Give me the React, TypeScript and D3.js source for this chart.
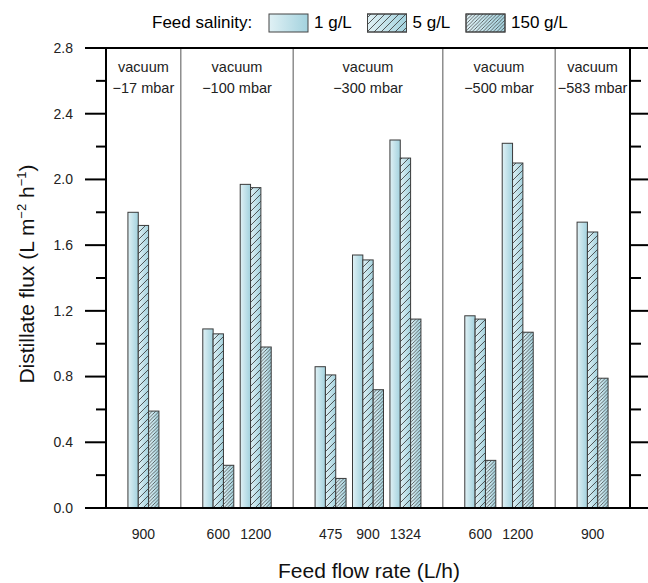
import React from "react";
import * as d3 from "d3";

// vacuum level of each panel and the feed flow rates measured in it
const vacuumLabels = ["\u221217 mbar", "\u2212100 mbar", "\u2212300 mbar", "\u2212500 mbar", "\u2212583 mbar"];
const flowRates = [["900"], ["600", "1200"], ["475", "900", "1324"], ["600", "1200"], ["900"]];

const series = ["1 g/L", "5 g/L", "150 g/L"];
const flux1 = [1.8, 1.09, 1.97, 0.86, 1.54, 2.24, 1.17, 2.22, 1.74];
const flux5 = [1.72, 1.06, 1.95, 0.81, 1.51, 2.13, 1.15, 2.1, 1.68];
const flux150 = [0.59, 0.26, 0.98, 0.18, 0.72, 1.15, 0.29, 1.07, 0.79];

const yTicks = [0, 0.4, 0.8, 1.2, 1.6, 2.0, 2.4, 2.8];
const yMinorTicks = [0.2, 0.6, 1.0, 1.4, 1.8, 2.2, 2.6];

const W = 648;
const H = 583;
const left = 106;
const right = 630;
const top = 48;
const bottom = 508;
const font = "'Liberation Sans', Arial, Helvetica, sans-serif";

export default function App() {
  // slot layout: each panel gets (groups + 1) slots, groups sit on whole slots
  const panels: { start: number; end: number; label: string }[] = [];
  const groups: { pos: number; label: string }[] = [];
  let cursor = 0;
  flowRates.forEach((rates, p) => {
    const start = cursor;
    rates.forEach((r, i) => groups.push({ pos: start + i + 1, label: r }));
    cursor = start + rates.length + 1;
    panels.push({ start, end: cursor, label: vacuumLabels[p] });
  });

  const x = d3.scaleLinear().domain([0, cursor]).range([left, right]);
  const y = d3.scaleLinear().domain([0, 2.8]).range([bottom, top]);
  const xInner = d3.scaleBand().domain(series).range([-15.5, 15.5]);
  const values = [flux1, flux5, flux150];
  const fills = ["", "url(#hatchSparse)", "url(#hatchDense)"];

  return (
    <svg width={W} height={H} style={{ position: "absolute", left: 0, top: 0, background: "#fff" }} fontFamily={font}>
      <defs>
        <linearGradient id="barGrad" x1="0" x2="1" y1="0" y2="0">
          <stop offset="0%" stopColor="#e0f1f5" />
          <stop offset="100%" stopColor="#a3d2de" />
        </linearGradient>
        <pattern id="hatchSparse" patternUnits="userSpaceOnUse" width="7" height="7">
          <path d="M0,7 L7,0 M-1,1 L1,-1 M6,8 L8,6" stroke="#333" strokeWidth="0.8" />
        </pattern>
        <pattern id="hatchDense" patternUnits="userSpaceOnUse" width="3.5" height="3.5">
          <path d="M0,3.5 L3.5,0 M-1,1 L1,-1 M2.5,4.5 L4.5,2.5" stroke="#333" strokeWidth="0.7" />
        </pattern>
      </defs>

      {/* legend */}
      <text x={152} y={28} fontSize={17}>Feed salinity:</text>
      {series.map((s, i) => {
        const lx = 269 + i * 98.5;
        return (
          <g key={s}>
            <rect x={lx} y={14} width={39} height={18} fill="url(#barGrad)" stroke="#444" strokeWidth={1} />
            {i > 0 && <rect x={lx} y={14} width={39} height={18} fill={fills[i]} stroke="#444" strokeWidth={1} />}
            <text x={lx + 45} y={28} fontSize={17}>{s}</text>
          </g>
        );
      })}

      {/* panel dividers and labels */}
      {panels.map((p, i) => (
        <g key={i}>
          {i > 0 && <line x1={x(p.start)} x2={x(p.start)} y1={top} y2={bottom} stroke="#555" strokeWidth={1} />}
          <text x={(x(p.start) + x(p.end)) / 2} y={72} fontSize={14.5} textAnchor="middle" fill="#222">vacuum</text>
          <text x={(x(p.start) + x(p.end)) / 2} y={93} fontSize={14.5} textAnchor="middle" fill="#222">{p.label}</text>
        </g>
      ))}

      {/* bars */}
      {groups.map((g, gi) => (
        <g key={gi}>
          {series.map((s, si) => {
            const bx = x(g.pos) + (xInner(s) as number);
            const by = y(values[si][gi]);
            const bw = xInner.bandwidth();
            const bh = y(0) - by;
            return (
              <g key={s}>
                <rect x={bx} y={by} width={bw} height={bh} fill="url(#barGrad)" />
                {si > 0 && <rect x={bx} y={by} width={bw} height={bh} fill={fills[si]} />}
                <rect x={bx} y={by} width={bw} height={bh} fill="none" stroke="#3a3a3a" strokeWidth={1} />
              </g>
            );
          })}
          <text x={x(g.pos)} y={539} fontSize={14} textAnchor="middle" fill="#222">{g.label}</text>
        </g>
      ))}

      {/* frame */}
      <line x1={85} x2={W} y1={top} y2={top} stroke="#000" strokeWidth={2} />
      <line x1={85} x2={W} y1={bottom} y2={bottom} stroke="#000" strokeWidth={2} />
      <line x1={left} x2={left} y1={top} y2={bottom} stroke="#000" strokeWidth={2} />
      <line x1={right} x2={right} y1={top} y2={bottom} stroke="#000" strokeWidth={2} />

      {/* y ticks */}
      {yTicks.map((t) => (
        <g key={t}>
          <line x1={85} x2={left} y1={y(t)} y2={y(t)} stroke="#000" strokeWidth={2} />
          <line x1={right} x2={W} y1={y(t)} y2={y(t)} stroke="#000" strokeWidth={2} />
          <text x={73} y={y(t)} dy="0.35em" fontSize={14} textAnchor="end" fill="#222">{t.toFixed(1)}</text>
        </g>
      ))}
      {yMinorTicks.map((t) => (
        <g key={t}>
          <line x1={96} x2={left} y1={y(t)} y2={y(t)} stroke="#000" strokeWidth={2} />
          <line x1={right} x2={641} y1={y(t)} y2={y(t)} stroke="#000" strokeWidth={2} />
        </g>
      ))}

      {/* axis titles */}
      <text transform="translate(34,274) rotate(-90)" fontSize={21} textAnchor="middle" fill="#111">
        Distillate flux (L m<tspan dy={-8} fontSize={13}>{"\u22122"}</tspan>
        <tspan dy={8}> h</tspan>
        <tspan dy={-8} fontSize={13}>{"\u22121"}</tspan>
        <tspan dy={8}>)</tspan>
      </text>
      <text x={369} y={578} fontSize={21} textAnchor="middle" fill="#111">Feed flow rate (L/h)</text>
    </svg>
  );
}
